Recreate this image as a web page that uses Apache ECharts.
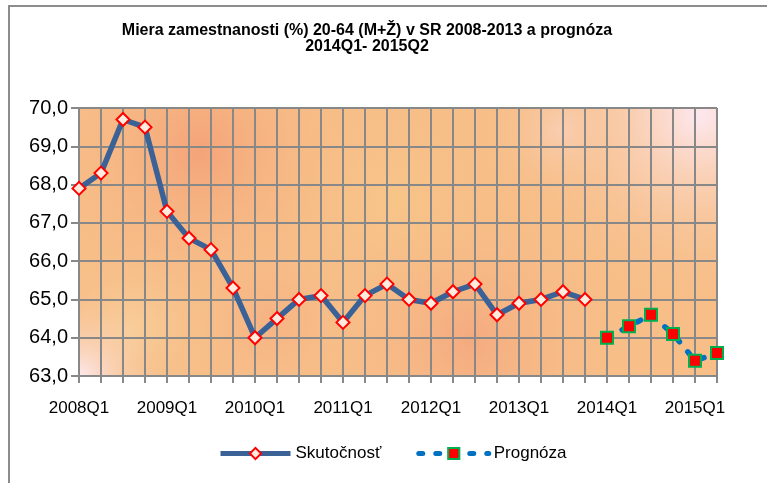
<!DOCTYPE html>
<html>
<head>
<meta charset="utf-8">
<script src="https://cdn.jsdelivr.net/npm/echarts@6/dist/echarts.min.js"></script>
<style>
  html, body { margin: 0; padding: 0; background: #fff; }
  #chart { width: 767px; height: 483px; }
</style>
</head>
<body>
<div id="chart"></div>
<script>
var quarters = ['2008Q1', '2008Q2', '2008Q3', '2008Q4',
    '2009Q1', '2009Q2', '2009Q3', '2009Q4',
    '2010Q1', '2010Q2', '2010Q3', '2010Q4',
    '2011Q1', '2011Q2', '2011Q3', '2011Q4',
    '2012Q1', '2012Q2', '2012Q3', '2012Q4',
    '2013Q1', '2013Q2', '2013Q3', '2013Q4',
    '2014Q1', '2014Q2', '2014Q3', '2014Q4',
    '2015Q1', '2015Q2'];
var skutocnost = [67.9, 68.3, 69.7, 69.5, 67.3, 66.6, 66.3, 65.3,
    64.0, 64.5, 65.0, 65.1, 64.4, 65.1, 65.4, 65.0,
    64.9, 65.2, 65.4, 64.6, 64.9, 65.0, 65.2, 65.0,
    '-', '-', '-', '-', '-', '-'];
var prognoza = ['-', '-', '-', '-', '-', '-', '-', '-',
    '-', '-', '-', '-', '-', '-', '-', '-',
    '-', '-', '-', '-', '-', '-', '-', '-',
    64.0, 64.3, 64.6, 64.1, 63.4, 63.6];

var chart = echarts.init(document.getElementById('chart'));
var font = "'Liberation Sans', Arial, sans-serif";

// plot area in pixels
var gL = 79, gT = 108, gW = 638, gH = 268;

function blob(cx, cy, r, color) {
    return {
        type: 'rect', z: -1, silent: true,
        shape: { x: gL, y: gT, width: gW, height: gH },
        style: {
            fill: {
                type: 'radial', x: cx, y: cy, r: r, global: true,
                colorStops: [{ offset: 0, color: color }, { offset: 1, color: 'rgba(247,190,136,0)' }]
            }
        }
    };
}

var option = {
    backgroundColor: '#fff',
    animation: false,
    title: {
        text: 'Miera zamestnanosti (%) 20-64 (M+Ž) v SR 2008-2013 a prognóza\n2014Q1- 2015Q2',
        left: 362,
        top: 18,
        textAlign: 'center',
        textStyle: { fontFamily: font, fontSize: 16, fontWeight: 'bold', color: '#000', lineHeight: 16 }
    },
    graphic: [
        {
            type: 'rect', z: -2, silent: true,
            shape: { x: 9, y: 6, width: 800, height: 500 },
            style: { fill: '#fff', stroke: '#8c8c8c', lineWidth: 2 }
        },
        {
            type: 'rect', z: -1, silent: true,
            shape: { x: gL, y: gT, width: gW, height: gH },
            style: { fill: '#F7BE88' }
        },
        blob(200, 150, 170, 'rgba(244,162,120,0.95)'),
        blob(470, 340, 150, 'rgba(244,166,126,0.85)'),
        blob(270, 320, 90, 'rgba(245,170,128,0.6)'),
        blob(390, 200, 120, 'rgba(248,200,136,0.7)'),
        blob(130, 330, 90, 'rgba(249,212,160,0.8)'),
        blob(80, 376, 90, 'rgba(253,232,236,1)'),
        blob(700, 115, 190, 'rgba(253,232,240,1)'),
        blob(560, 130, 80, 'rgba(251,214,200,0.6)')
    ],
    legend: {
        bottom: 16,
        left: 213,
        itemWidth: 70,
        itemHeight: 14,
        itemGap: 35,
        itemTextGap: 8,
        lineStyle: { width: 5 },
        textStyle: { fontFamily: font, fontSize: 17, color: '#000' },
        data: ['Skutočnosť', 'Prognóza']
    },
    grid: { left: gL, top: gT, width: gW, height: gH },
    xAxis: {
        type: 'category',
        data: quarters,
        boundaryGap: false,
        axisLine: { lineStyle: { color: '#888', width: 2 } },
        axisTick: { show: true, interval: 0, length: 7, lineStyle: { color: '#888', width: 2 } },
        axisLabel: { interval: 3, margin: 24, fontFamily: font, fontSize: 17, color: '#000' },
        splitLine: { show: true, interval: 0, lineStyle: { color: '#888', width: 2 } }
    },
    yAxis: {
        type: 'value',
        min: 63,
        max: 70,
        interval: 1,
        axisLine: { show: true, lineStyle: { color: '#888', width: 2 } },
        axisTick: { show: true, length: 8, lineStyle: { color: '#888', width: 2 } },
        axisLabel: {
            margin: 11, fontFamily: font, fontSize: 20, color: '#000',
            formatter: function (v) { return v.toFixed(1).replace('.', ','); }
        },
        splitLine: { show: true, lineStyle: { color: '#888', width: 2 } }
    },
    series: [
        {
            name: 'Skutočnosť',
            type: 'line',
            data: skutocnost,
            symbol: 'diamond',
            symbolSize: 13,
            lineStyle: { color: '#3A6296', width: 5.5 },
            itemStyle: { color: '#FDEBDD', borderColor: '#FF0000', borderWidth: 2 }
        },
        {
            name: 'Prognóza',
            type: 'line',
            data: prognoza,
            symbol: 'rect',
            symbolSize: 12,
            lineStyle: { color: '#0070C0', width: 5.5, type: [4, 13], cap: 'round' },
            itemStyle: { color: '#FF0000', borderColor: '#00B050', borderWidth: 2 }
        }
    ]
};
chart.setOption(option);
</script>
</body>
</html>
